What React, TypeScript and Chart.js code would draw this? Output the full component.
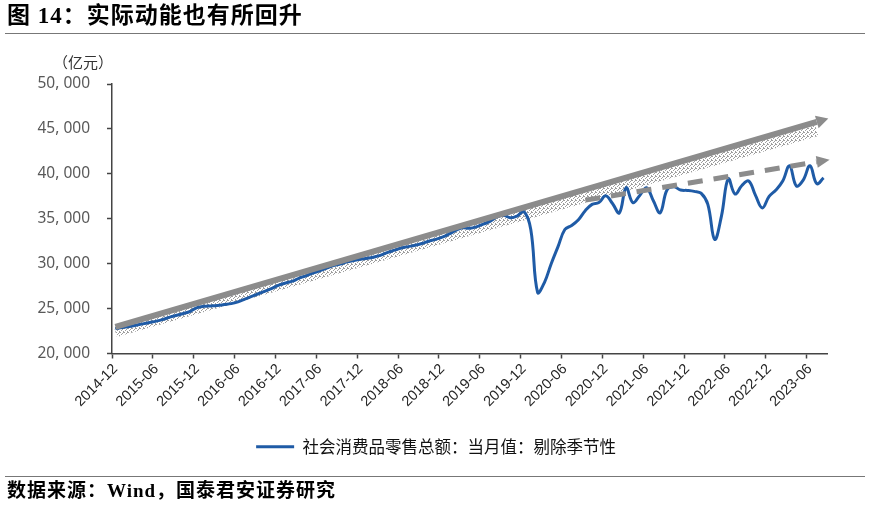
import React, { useEffect, useRef } from 'react';
import { Chart, registerables } from 'chart.js';

Chart.register(...registerables);

// ---------- data ----------
const months: string[] = [
  '2014-12',
  '2015-01', '2015-02', '2015-03', '2015-04', '2015-05', '2015-06', '2015-07', '2015-08', '2015-09', '2015-10', '2015-11', '2015-12',
  '2016-01', '2016-02', '2016-03', '2016-04', '2016-05', '2016-06', '2016-07', '2016-08', '2016-09', '2016-10', '2016-11', '2016-12',
  '2017-01', '2017-02', '2017-03', '2017-04', '2017-05', '2017-06', '2017-07', '2017-08', '2017-09', '2017-10', '2017-11', '2017-12',
  '2018-01', '2018-02', '2018-03', '2018-04', '2018-05', '2018-06', '2018-07', '2018-08', '2018-09', '2018-10', '2018-11', '2018-12',
  '2019-01', '2019-02', '2019-03', '2019-04', '2019-05', '2019-06', '2019-07', '2019-08', '2019-09', '2019-10', '2019-11', '2019-12',
  '2020-01', '2020-02', '2020-03', '2020-04', '2020-05', '2020-06', '2020-07', '2020-08', '2020-09', '2020-10', '2020-11', '2020-12',
  '2021-01', '2021-02', '2021-03', '2021-04', '2021-05', '2021-06', '2021-07', '2021-08', '2021-09', '2021-10', '2021-11', '2021-12',
  '2022-01', '2022-02', '2022-03', '2022-04', '2022-05', '2022-06', '2022-07', '2022-08', '2022-09', '2022-10', '2022-11', '2022-12',
  '2023-01', '2023-02', '2023-03', '2023-04', '2023-05', '2023-06', '2023-07', '2023-08',
];

// 社会消费品零售总额：当月值：剔除季节性 (亿元)
const retailSalesSA: number[] = [
  22750,
  22900, 23000, 23150, 23300, 23450, 23600, 23800, 24050, 24250, 24450, 24700, 25100,
  25250, 25300, 25350, 25450, 25550, 25750, 26050, 26350, 26650, 26950, 27250, 27600,
  27850, 28050, 28400, 28650, 28950, 29200, 29500, 29780, 29950, 30200, 30350, 30500,
  30600, 30750, 30950, 31250, 31500, 31750, 31900, 32050, 32250, 32500, 32700, 32950,
  33300, 33700, 34000, 33950, 34100, 34400, 34700, 35200, 35400, 35100, 35300, 35800,
  33800, 26800, 27900, 30000, 31900, 33800, 34250, 34900, 35900, 36600, 36800, 37550,
  36700, 35650, 38450, 36800, 37600, 38450, 37000, 35670, 38200, 38550, 38200, 38150,
  38050, 37850, 36600, 32700, 35300, 39450, 37750, 38700, 39200, 37600, 36200, 37500,
  38200, 39200, 40900, 38650, 39300, 40900, 38900, 39550,
];

// trend arrows (annotation lines)
const solidTrendMonths: string[] = ['2014-12', '2023-07'];
const solidTrendValues: number[] = [22970, 45780];
const solidShadowValues: number[] = [22420, 44800];
const dashedTrendMonths: string[] = ['2020-09', '2023-07'];
const dashedTrendValues: number[] = [37070, 41330];

const yMin = 20000;
const yMax = 50000;
const yStep = 5000;

const seriesName = '社会消费品零售总额：当月值：剔除季节性';
const unitLabel = '（亿元）';
const titleText = '图 14：实际动能也有所回升';
const sourceText = '数据来源：Wind，国泰君安证券研究';

const BLUE = '#1F5BA6';
const GRAY = '#8C8C8C';
const AXIS = '#444444';

const isLabelled = (l?: string) => !!l && (l.endsWith('-06') || l.endsWith('-12'));

const arrowPlugin = {
  id: 'arrowHeads',
  afterDatasetsDraw(chart: any) {
    const ctx = chart.ctx;
    chart.data.datasets.forEach((ds: any, i: number) => {
      const head = ds.arrowHead;
      if (!head) return;
      const meta = chart.getDatasetMeta(i);
      const pts = meta.data;
      if (!pts || pts.length < 2) return;
      const a = pts[pts.length - 2];
      const b = pts[pts.length - 1];
      const ang = Math.atan2(b.y - a.y, b.x - a.x);
      ctx.save();
      ctx.translate(b.x, b.y);
      ctx.rotate(ang);
      ctx.beginPath();
      ctx.moveTo(head.length, 0);
      ctx.lineTo(0, -head.width / 2);
      ctx.lineTo(0, head.width / 2);
      ctx.closePath();
      ctx.fillStyle = ds.borderColor;
      ctx.fill();
      ctx.restore();
    });
  },
};

// centre the legend under the plot rather than under the whole canvas
const legendShiftPlugin = {
  id: 'legendShift',
  afterLayout(chart: any) {
    if (chart.legend) chart.legend.left += 45;
  },
};

export default function App() {
  const ref = useRef<HTMLCanvasElement>(null);

  useEffect(() => {
    const canvas = ref.current!;
    const ctx = canvas.getContext('2d')!;
    const pc = document.createElement('canvas');
    pc.width = 4;
    pc.height = 4;
    const pg = pc.getContext('2d')!;
    pg.fillStyle = 'rgba(60,60,60,0.5)';
    [[0, 0], [2, 1], [1, 2], [3, 3], [3, 0]].forEach(([a, b]) => pg.fillRect(a, b, 1, 1));
    const stipple = ctx.createPattern(pc, 'repeat') as any;

    const chart = new Chart(canvas, {
      type: 'line',
      data: {
        labels: months,
        datasets: [
          {
            label: seriesName,
            data: retailSalesSA,
            borderColor: BLUE,
            backgroundColor: BLUE,
            borderWidth: 3,
            pointRadius: 0,
            tension: 0.4,
            fill: false,
            order: 3,
          },
          {
            label: 'trend',
            data: solidTrendMonths.map((m, k) => ({ x: m, y: solidTrendValues[k] })),
            borderColor: GRAY,
            borderWidth: 6,
            pointRadius: 0,
            borderCapStyle: 'butt',
            order: 1,
            arrowHead: { length: 12, width: 13 },
          } as any,
          {
            label: 'trend2',
            data: dashedTrendMonths.map((m, k) => ({ x: m, y: dashedTrendValues[k] })),
            borderColor: GRAY,
            borderWidth: 5,
            borderDash: [15, 11],
            pointRadius: 0,
            borderCapStyle: 'butt',
            order: 2,
            arrowHead: { length: 13, width: 12 },
          } as any,
          {
            label: 'shadow',
            data: solidTrendMonths.map((m, k) => ({ x: m, y: solidShadowValues[k] })),
            borderColor: stipple,
            borderWidth: 11,
            pointRadius: 0,
            order: 4,
          } as any,
        ],
      },
      options: {
        responsive: false,
        animation: false,
        devicePixelRatio: 1,
        events: [],
        layout: { padding: { left: 0, right: 43, top: 84, bottom: 44 } },
        plugins: {
          tooltip: { enabled: false },
          legend: {
            position: 'bottom',
            labels: {
              boxWidth: 38,
              boxHeight: 3,
              padding: 10,
              color: '#111',
              font: { family: '"Noto Sans CJK SC", sans-serif', size: 16.5 },
              generateLabels: (c: any) =>
                (Chart.defaults.plugins.legend.labels.generateLabels as any)(c)
                  .filter((it: any) => it.datasetIndex === 0)
                  .map((it: any) => ({ ...it, lineWidth: 0, fillStyle: BLUE, strokeStyle: BLUE })),
            },
          },
        },
        scales: {
          x: {
            type: 'category',
            offset: true,
            grid: {
              offset: true,
              drawOnChartArea: false,
              drawTicks: true,
              tickLength: 5,
              tickWidth: 1.5,
              tickColor: (c: any) => (isLabelled(months[c.index]) ? AXIS : 'rgba(0,0,0,0)'),
            } as any,
            border: { display: true, color: AXIS, width: 1.5 },
            ticks: {
              autoSkip: false,
              maxRotation: 45,
              minRotation: 45,
              padding: 2,
              color: '#262626',
              font: { family: '"Liberation Sans", Arial, sans-serif', size: 14.5 },
              callback: (_v: any, i: number) => (isLabelled(months[i]) ? months[i] : ''),
            },
            afterFit: (s: any) => {
              s.height = 75;
            },
          },
          y: {
            min: yMin,
            max: yMax,
            grid: {
              drawOnChartArea: false,
              drawTicks: true,
              tickLength: 5,
              tickWidth: 1.5,
              tickColor: AXIS,
            },
            border: { display: true, color: AXIS, width: 1.5 },
            ticks: {
              stepSize: yStep,
              padding: 17,
              color: '#595959',
              font: { family: '"Noto Sans", sans-serif', size: 15.5 },
              callback: (v: any) => {
                const n = Number(v);
                const th = Math.floor(n / 1000);
                const rest = String(n % 1000).padStart(3, '0');
                return `${th}, ${rest}`;
              },
            },
            afterFit: (s: any) => {
              s.width = 112;
            },
          },
        },
      },
      plugins: [arrowPlugin, legendShiftPlugin],
    } as any);

    return () => chart.destroy();
  }, []);

  return (
    <div style={{ position: 'absolute', left: 0, top: 0, width: 870, height: 509, background: '#fff', overflow: 'hidden' }}>
      <canvas ref={ref} width={870} height={509} style={{ position: 'absolute', left: 0, top: 0, width: 870, height: 509 }} />
      <div
        style={{
          position: 'absolute', left: 7, top: 3, fontSize: 23, lineHeight: '26px', fontWeight: 700,
          fontFamily: '"Liberation Serif", "Noto Sans CJK SC", serif', letterSpacing: 1, color: '#000', whiteSpace: 'nowrap',
        }}
      >
        {titleText}
      </div>
      <div style={{ position: 'absolute', left: 5, top: 33, width: 860, height: 1, background: '#777' }} />
      <div
        style={{
          position: 'absolute', left: 53, top: 53, fontSize: 15, lineHeight: '18px',
          fontFamily: '"Noto Sans CJK SC", sans-serif', color: '#333', whiteSpace: 'nowrap',
        }}
      >
        {unitLabel}
      </div>
      <div style={{ position: 'absolute', left: 5, top: 476, width: 860, height: 1, background: '#777' }} />
      <div
        style={{
          position: 'absolute', left: 7, top: 480, fontSize: 19, lineHeight: '22px', fontWeight: 700,
          fontFamily: '"Liberation Serif", "Noto Sans CJK SC", serif', letterSpacing: 1, color: '#000', whiteSpace: 'nowrap',
        }}
      >
        {sourceText}
      </div>
    </div>
  );
}
